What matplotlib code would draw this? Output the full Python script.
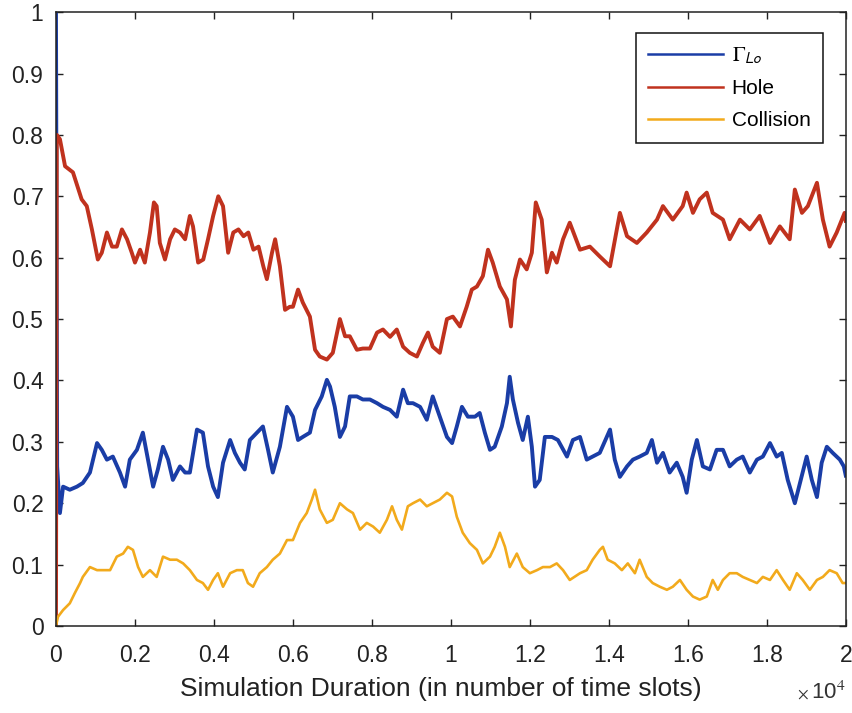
# Gamma_Lo / Hole / Collision over simulation time

import matplotlib
matplotlib.use('Agg')
import matplotlib.pyplot as plt
from matplotlib.ticker import FuncFormatter, MultipleLocator

plt.rcParams['font.family'] = ['Liberation Sans', 'DejaVu Sans']
plt.rcParams['mathtext.fontset'] = 'stix'

# values (x in time slots)
gamma_x = [0, 30, 100, 180, 350, 530, 680, 860, 1040, 1160, 1290, 1440, 1620, 1750, 1870,
           2050, 2200, 2330, 2460, 2580, 2710, 2840, 2960, 3140, 3270, 3390, 3570, 3720,
           3850, 3980, 4100, 4230, 4410, 4530, 4660, 4780, 4910, 5090, 5240, 5370, 5490,
           5670, 5850, 6000, 6130, 6250, 6430, 6560, 6730, 6860, 6940, 7060, 7190, 7320,
           7440, 7620, 7770, 7950, 8130, 8280, 8460, 8630, 8790, 8910, 9040, 9220, 9390,
           9540, 9720, 9900, 10030, 10150, 10280, 10430, 10610, 10730, 10860, 10990, 11110,
           11290, 11420, 11490, 11570, 11700, 11820, 11950, 12050, 12130, 12250, 12380,
           12560, 12710, 12940, 13090, 13270, 13440, 13590, 13770, 14030, 14150, 14280,
           14460, 14610, 14780, 14960, 15090, 15220, 15370, 15540, 15720, 15870, 15970,
           16100, 16230, 16380, 16560, 16730, 16890, 17060, 17240, 17390, 17570, 17750,
           17900, 18080, 18250, 18380, 18530, 18710, 18840, 19010, 19140, 19270, 19390,
           19520, 19670, 19850, 19950, 20000]
gamma_y = [1.0, 0.26, 0.184, 0.227, 0.222, 0.227, 0.233, 0.25, 0.298, 0.287, 0.271, 0.276,
           0.25, 0.227, 0.271, 0.287, 0.315, 0.271, 0.227, 0.255, 0.292, 0.271, 0.238, 0.26,
           0.25, 0.25, 0.32, 0.315, 0.26, 0.227, 0.21, 0.266, 0.303, 0.282, 0.266, 0.255,
           0.303, 0.315, 0.325, 0.287, 0.25, 0.292, 0.357, 0.341, 0.303, 0.308, 0.315, 0.352,
           0.374, 0.401, 0.39, 0.357, 0.308, 0.325, 0.374, 0.374, 0.369, 0.369, 0.363, 0.357,
           0.352, 0.341, 0.385, 0.363, 0.363, 0.357, 0.336, 0.374, 0.341, 0.308, 0.298,
           0.325, 0.357, 0.341, 0.341, 0.347, 0.315, 0.287, 0.292, 0.325, 0.363, 0.406,
           0.369, 0.331, 0.303, 0.341, 0.292, 0.227, 0.238, 0.308, 0.308, 0.303, 0.276,
           0.303, 0.308, 0.271, 0.276, 0.282, 0.32, 0.271, 0.243, 0.26, 0.271, 0.276, 0.282,
           0.303, 0.266, 0.282, 0.25, 0.266, 0.243, 0.217, 0.271, 0.303, 0.26, 0.255, 0.287,
           0.287, 0.26, 0.271, 0.276, 0.25, 0.271, 0.276, 0.298, 0.276, 0.282, 0.238, 0.2,
           0.233, 0.276, 0.238, 0.21, 0.266, 0.292, 0.282, 0.271, 0.26, 0.245]

hole_x = [0, 20, 100, 230, 430, 650, 780, 910, 1060, 1160, 1290, 1420, 1540, 1670, 1800,
          1920, 2000, 2130, 2250, 2380, 2480, 2550, 2630, 2760, 2890, 3010, 3140, 3270,
          3390, 3470, 3600, 3730, 3850, 3980, 4110, 4230, 4360, 4490, 4620, 4750, 4870,
          5000, 5130, 5250, 5340, 5470, 5550, 5670, 5800, 5920, 6000, 6130, 6250, 6430,
          6560, 6680, 6860, 7010, 7190, 7320, 7440, 7620, 7770, 7950, 8130, 8280, 8460,
          8630, 8790, 8960, 9140, 9290, 9420, 9540, 9720, 9900, 10050, 10230, 10400, 10530,
          10660, 10810, 10940, 11060, 11240, 11420, 11520, 11620, 11750, 11920, 12050,
          12150, 12300, 12430, 12560, 12680, 12840, 13010, 13270, 13520, 13770, 14030,
          14280, 14460, 14710, 14960, 15220, 15370, 15620, 15870, 15970, 16130, 16300,
          16480, 16630, 16890, 17060, 17320, 17570, 17820, 18080, 18330, 18580, 18710,
          18890, 19040, 19270, 19420, 19590, 19770, 19970, 20000]
hole_y = [0.0, 0.80, 0.793, 0.749, 0.739, 0.695, 0.684, 0.646, 0.597, 0.608, 0.641, 0.618,
          0.618, 0.646, 0.63, 0.608, 0.592, 0.613, 0.592, 0.641, 0.69, 0.684, 0.624, 0.597,
          0.63, 0.646, 0.641, 0.63, 0.668, 0.651, 0.592, 0.597, 0.63, 0.668, 0.70, 0.684,
          0.608, 0.641, 0.646, 0.635, 0.641, 0.613, 0.618, 0.586, 0.565, 0.608, 0.63, 0.586,
          0.515, 0.52, 0.52, 0.548, 0.527, 0.504, 0.45, 0.439, 0.434, 0.445, 0.50, 0.472,
          0.472, 0.45, 0.452, 0.452, 0.478, 0.483, 0.471, 0.483, 0.455, 0.445, 0.439, 0.461,
          0.478, 0.455, 0.445, 0.50, 0.504, 0.488, 0.52, 0.548, 0.553, 0.57, 0.613, 0.592,
          0.553, 0.532, 0.488, 0.564, 0.597, 0.581, 0.608, 0.69, 0.662, 0.576, 0.608, 0.592,
          0.63, 0.657, 0.613, 0.618, 0.602, 0.586, 0.673, 0.635, 0.624, 0.641, 0.662, 0.684,
          0.662, 0.684, 0.706, 0.673, 0.695, 0.706, 0.673, 0.662, 0.63, 0.662, 0.646, 0.668,
          0.624, 0.651, 0.63, 0.711, 0.673, 0.684, 0.722, 0.662, 0.618, 0.641, 0.673, 0.66]

coll_x = [0, 50, 180, 350, 480, 610, 680, 860, 1040, 1190, 1370, 1540, 1700, 1820, 1950,
          2080, 2200, 2380, 2550, 2710, 2890, 3060, 3220, 3390, 3570, 3720, 3850, 3980,
          4100, 4230, 4410, 4580, 4730, 4860, 4990, 5160, 5340, 5490, 5670, 5850, 6000,
          6180, 6350, 6480, 6560, 6680, 6860, 7010, 7190, 7370, 7520, 7700, 7870, 8030,
          8200, 8380, 8510, 8630, 8760, 8910, 9040, 9220, 9390, 9540, 9720, 9900, 10030,
          10150, 10300, 10480, 10660, 10810, 10990, 11110, 11240, 11370, 11490, 11670,
          11820, 12000, 12180, 12330, 12510, 12680, 12840, 13010, 13270, 13440, 13590,
          13770, 13850, 13970, 14150, 14330, 14480, 14660, 14780, 14960, 15110, 15290,
          15470, 15620, 15800, 15970, 16130, 16300, 16480, 16630, 16760, 16890, 17060,
          17240, 17390, 17570, 17750, 17900, 18080, 18250, 18410, 18580, 18760, 18910,
          19090, 19270, 19420, 19590, 19770, 19920, 20000]
coll_y = [0.0, 0.015, 0.026, 0.037, 0.054, 0.07, 0.08, 0.096, 0.091, 0.091, 0.091, 0.113,
          0.118, 0.129, 0.124, 0.096, 0.08, 0.091, 0.08, 0.113, 0.108, 0.108, 0.102, 0.091,
          0.075, 0.07, 0.059, 0.075, 0.086, 0.064, 0.086, 0.091, 0.091, 0.07, 0.064, 0.086,
          0.096, 0.108, 0.118, 0.14, 0.14, 0.168, 0.184, 0.206, 0.222, 0.19, 0.168, 0.173,
          0.2, 0.19, 0.184, 0.157, 0.168, 0.162, 0.152, 0.173, 0.195, 0.173, 0.157, 0.195,
          0.2, 0.206, 0.195, 0.2, 0.206, 0.217, 0.211, 0.178, 0.152, 0.135, 0.124, 0.102,
          0.113, 0.129, 0.152, 0.129, 0.096, 0.118, 0.096, 0.086, 0.091, 0.096, 0.096,
          0.102, 0.091, 0.075, 0.086, 0.091, 0.108, 0.124, 0.129, 0.108, 0.102, 0.091,
          0.102, 0.086, 0.108, 0.08, 0.07, 0.064, 0.059, 0.064, 0.075, 0.059, 0.048, 0.043,
          0.048, 0.075, 0.059, 0.075, 0.086, 0.086, 0.08, 0.075, 0.07, 0.08, 0.075, 0.091,
          0.075, 0.059, 0.086, 0.075, 0.059, 0.075, 0.08, 0.091, 0.086, 0.07, 0.07]

labels = [r'$\Gamma_{\mathsf{Lo}}$', 'Hole', 'Collision']
colors = ['#1a3da6', '#c0321e', '#f2aa1c']

fig = plt.figure(figsize=(8.52, 7.13), dpi=100)
ax = fig.add_axes([0.0657, 0.122, 0.927, 0.861])

ax.plot(gamma_x, gamma_y, color=colors[0], linewidth=2.8, label=labels[0])
ax.plot(hole_x, hole_y, color=colors[1], linewidth=2.8, label=labels[1])
ax.plot(coll_x, coll_y, color=colors[2], linewidth=1.9, label=labels[2])

ax.set_xlim(0, 20000)
ax.set_ylim(0, 1)
ax.xaxis.set_major_locator(MultipleLocator(2000))
ax.yaxis.set_major_locator(MultipleLocator(0.1))
ax.xaxis.set_major_formatter(FuncFormatter(lambda v, p: '%g' % round(v / 1e4, 2)))
ax.yaxis.set_major_formatter(FuncFormatter(lambda v, p: '%g' % round(v, 2)))

ax.tick_params(direction='in', length=5, width=1, top=True, right=True,
               labelsize=16.5, colors='#222222')
ax.tick_params(axis='x', pad=13)
ax.tick_params(axis='y', pad=9)
for s in ax.spines.values():
    s.set_linewidth(1.1)
    s.set_color('#222222')

ax.set_xlabel('Simulation Duration (in number of time slots)', fontsize=19,
              color='#222222')
ax.xaxis.set_label_coords(0.487, -0.083)
fig.text(0.936, 0.02, r'$\times$', fontsize=12, color='#333333', ha='left')
fig.text(0.952, 0.02, r'10$^4$', fontsize=16, color='#333333', ha='left')

leg = ax.legend(loc='upper right', bbox_to_anchor=(0.971, 0.966), borderaxespad=0,
                fancybox=False, edgecolor='#111111', framealpha=1, fontsize=15,
                handlelength=3.6, labelspacing=0.62, handletextpad=0.4, borderpad=0.6)
leg.get_frame().set_linewidth(1.1)
for l in leg.get_lines():
    l.set_linewidth(1.8)

fig.savefig('out.png', dpi=100)
